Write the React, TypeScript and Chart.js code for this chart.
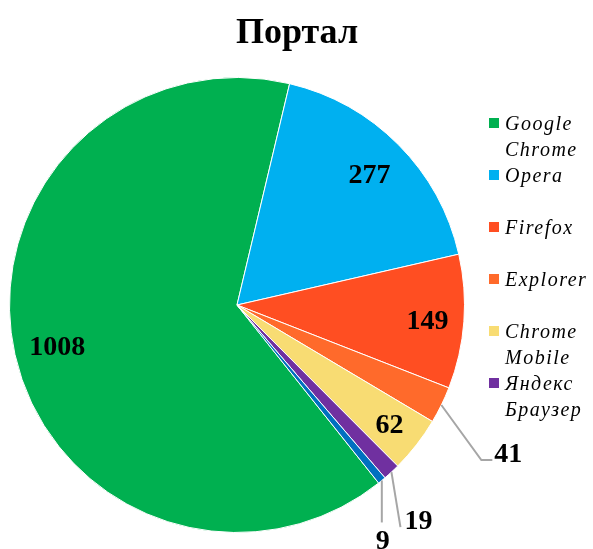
import React, { useEffect, useRef } from "react";
import { Chart, registerables } from "chart.js";

Chart.register(...registerables);

const TITLE = "Портал";
const CATEGORIES = ["Google Chrome", "Opera", "Firefox", "Explorer", "Chrome Mobile", "Яндекс Браузер", "Другие"];
const VALUES = [1008, 277, 149, 41, 62, 19, 9];
const COLORS = ["#00B050", "#00B0F0", "#FF4E22", "#FF6A2B", "#F8DC73", "#7030A0", "#0070C0"];
const LEGEND_COUNT = 6;

// label styling per slice: inside labels use a radial factor, outside ones a leader line
type LabelStyle =
  | { kind: "inside"; factor: number }
  | { kind: "outside"; elbow: [number, number]; tail: number; text: [number, number]; align: CanvasTextAlign };

const LABEL_STYLES: LabelStyle[] = [
  { kind: "inside", factor: 0.81 },
  { kind: "inside", factor: 0.82 },
  { kind: "inside", factor: 0.84 },
  { kind: "outside", elbow: [40, 55], tail: 11, text: [2, -8], align: "left" },
  { kind: "inside", factor: 0.85 },
  { kind: "outside", elbow: [9, 55], tail: 0, text: [4, -8], align: "left" },
  { kind: "outside", elbow: [0, 42], tail: 0, text: [1, 17], align: "center" },
];

const SERIF = "'Liberation Serif', 'Times New Roman', serif";

const overlayPlugin = {
  id: "overlay",
  afterDraw(chart: any) {
    const ctx: CanvasRenderingContext2D = chart.ctx;
    const meta = chart.getDatasetMeta(0);
    const data = chart.data.datasets[0].data as number[];
    ctx.save();

    // title
    ctx.fillStyle = "#000";
    ctx.font = `bold 36px ${SERIF}`;
    ctx.textAlign = "center";
    ctx.textBaseline = "alphabetic";
    ctx.fillText(TITLE, 297, 43);

    // data labels
    ctx.font = `bold 28px ${SERIF}`;
    meta.data.forEach((arc: any, i: number) => {
      const st = LABEL_STYLES[i];
      const { x, y, startAngle, endAngle, outerRadius } = arc.getProps(
        ["x", "y", "startAngle", "endAngle", "outerRadius"],
        true
      );
      const mid = (startAngle + endAngle) / 2;
      const text = String(data[i]);
      if (st.kind === "inside") {
        const px = x + Math.cos(mid) * outerRadius * st.factor;
        const py = y + Math.sin(mid) * outerRadius * st.factor;
        ctx.textAlign = "center";
        ctx.fillText(text, px, py + 9.5);
      } else {
        const ax = x + Math.cos(mid) * outerRadius;
        const ay = y + Math.sin(mid) * outerRadius;
        const ex = ax + st.elbow[0];
        const ey = ay + st.elbow[1];
        ctx.strokeStyle = "#A6A6A6";
        ctx.lineWidth = 2;
        ctx.beginPath();
        ctx.moveTo(ax, ay);
        ctx.lineTo(ex, ey);
        if (st.tail) ctx.lineTo(ex + st.tail, ey);
        ctx.stroke();
        ctx.textAlign = st.align;
        ctx.fillText(text, ex + st.tail + st.text[0], ey + st.text[1] + 9.5);
      }
    });

    // legend
    const labels = chart.data.labels as string[];
    let cy = 123;
    for (let i = 0; i < LEGEND_COUNT; i++) {
      ctx.fillStyle = COLORS[i];
      ctx.fillRect(489, cy - 5, 10, 10);
      ctx.fillStyle = "#000";
      ctx.font = `italic 20px ${SERIF}`;
      (ctx as any).letterSpacing = "1.5px";
      ctx.textAlign = "left";
      ctx.textBaseline = "alphabetic";
      const lines = labels[i].split(" ");
      lines.forEach((ln, k) => {
        ctx.fillText(ln, 505, cy + 7 + k * 26);
      });
      (ctx as any).letterSpacing = "0px";
      cy += 52;
    }
    ctx.restore();
  },
};

export default function App() {
  const ref = useRef<HTMLCanvasElement | null>(null);
  useEffect(() => {
    if (!ref.current) return;
    const chart = new Chart(ref.current, {
      type: "pie",
      data: {
        labels: CATEGORIES,
        datasets: [
          {
            data: VALUES,
            backgroundColor: COLORS,
            borderColor: "#FFFFFF",
            borderWidth: 1,
          },
        ],
      },
      options: {
        responsive: false,
        animation: false,
        rotation: 141.5,
        layout: { padding: { left: 9, right: 128, top: 77, bottom: 16 } },
        plugins: {
          legend: { display: false },
          title: { display: false },
          tooltip: { enabled: false },
        },
      },
      plugins: [overlayPlugin],
    });
    return () => chart.destroy();
  }, []);
  return (
    <div style={{ position: "fixed", left: 0, top: 0, width: 593, height: 549, background: "#fff" }}>
      <canvas ref={ref} width={593} height={549} />
    </div>
  );
}
